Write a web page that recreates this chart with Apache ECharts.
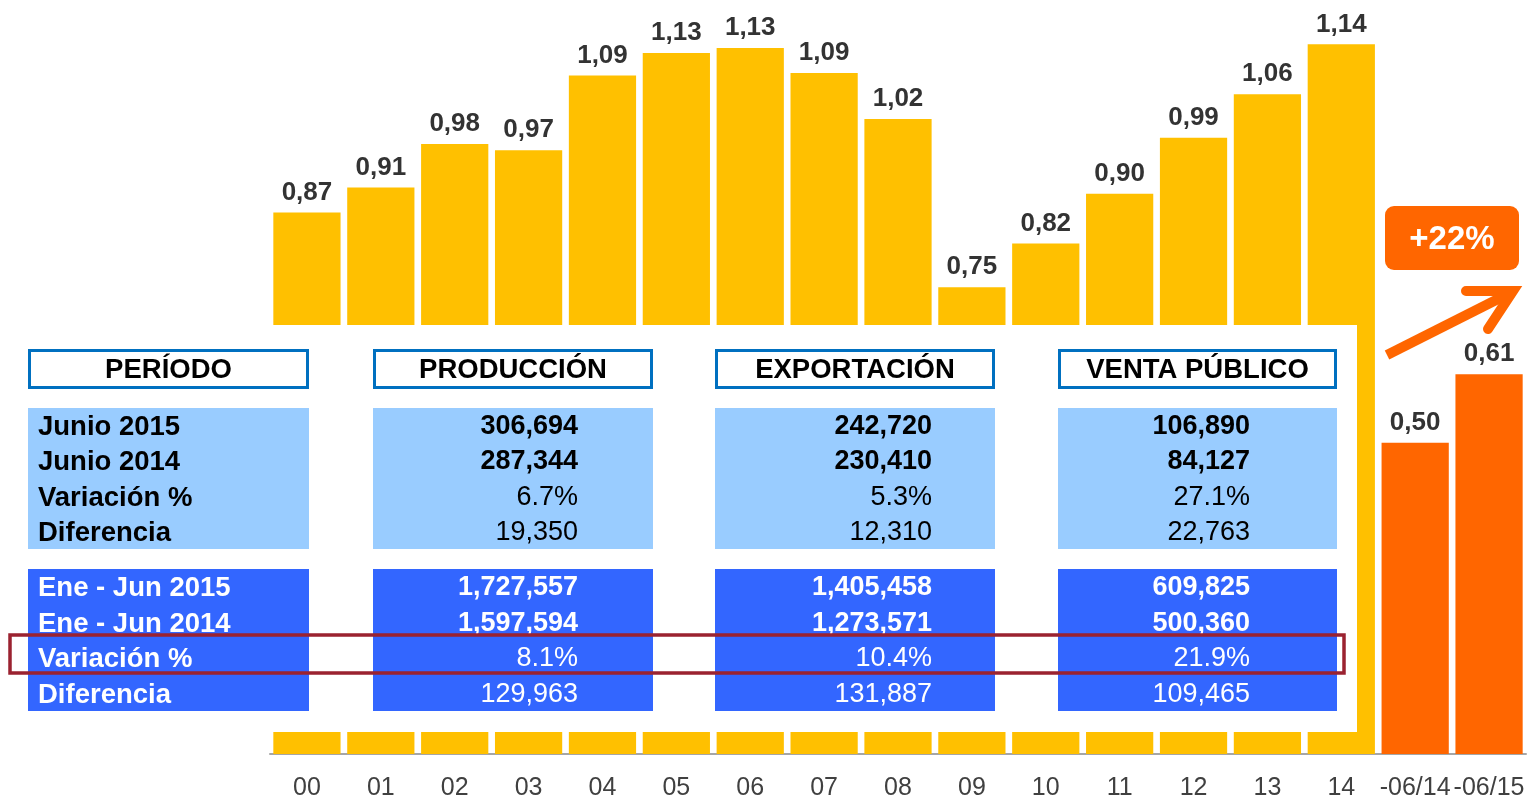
<!DOCTYPE html>
<html><head><meta charset="utf-8">
<script src="https://cdn.jsdelivr.net/npm/echarts@6/dist/echarts.min.js"></script>
<style>html,body{margin:0;padding:0;background:#fff}#c{width:1528px;height:801px}</style>
</head><body><div id="c"></div>
<script>
// ---- data ----
const categories = ['00','01','02','03','04','05','06','07','08','09','10','11','12','13','14','-06/14','-06/15'];
const annualValues = [0.87,0.91,0.98,0.97,1.09,1.126,1.134,1.094,1.02,0.75,0.82,0.90,0.99,1.06,1.14];
const partialValues = [0.50,0.61];
const growthLabel = '+22%';

const tableHeaders = ['PERÍODO','PRODUCCIÓN','EXPORTACIÓN','VENTA PÚBLICO'];
const monthRowLabels = ['Junio 2015','Junio 2014','Variación %','Diferencia'];
const ytdRowLabels = ['Ene - Jun 2015','Ene - Jun 2014','Variación %','Diferencia'];
const produccionMonth = ['306,694','287,344','6.7%','19,350'];
const exportacionMonth = ['242,720','230,410','5.3%','12,310'];
const ventaMonth = ['106,890','84,127','27.1%','22,763'];
const produccionYtd = ['1,727,557','1,597,594','8.1%','129,963'];
const exportacionYtd = ['1,405,458','1,273,571','10.4%','131,887'];
const ventaYtd = ['609,825','500,360','21.9%','109,465'];

// ---- styles ----
const YELLOW = '#FFC000', ORANGE = '#FF6600';
const LIGHT = '#99CCFF', DARK = '#3366FF', BORDER = '#0070C0', RED = '#9B2230';
const FONT = '"Liberation Sans", Arial, sans-serif';

const allValues = annualValues.concat(partialValues);
const barData = allValues.map((v, i) => ({
  value: v,
  itemStyle: { color: i < annualValues.length ? YELLOW : ORANGE }
}));

const colX = [[28,309],[373,653],[715,995],[1058,1337]];
const valueRight = [578, 932, 1250];
const monthRowsY = [427, 462, 498, 533];
const ytdRowsY = [588, 624, 659, 695];

const g = [];
// white panel covering lower bars
g.push({ type:'rect', shape:{x:0,y:325,width:1357,height:407}, style:{fill:'#fff'}, z:100 });
// headers
tableHeaders.forEach((h, i) => {
  const [x0,x1] = colX[i];
  g.push({ type:'rect', shape:{x:x0+1.5,y:350.5,width:x1-x0-3,height:37}, style:{fill:'#fff', stroke:BORDER, lineWidth:3}, z:101 });
  g.push({ type:'text', x:(x0+x1)/2, y:370, style:{text:h, fill:'#000', font:'bold 27.5px '+FONT, align:'center', verticalAlign:'middle'}, z:102 });
});
// blocks
colX.forEach(([x0,x1]) => {
  g.push({ type:'rect', shape:{x:x0,y:408,width:x1-x0,height:141}, style:{fill:LIGHT}, z:101 });
  g.push({ type:'rect', shape:{x:x0,y:569,width:x1-x0,height:142}, style:{fill:DARK}, z:101 });
});
function addRows(labels, cols, ys, color) {
  labels.forEach((t, r) => {
    g.push({ type:'text', x:38, y:ys[r], style:{text:t, fill:color, font:'bold 27.5px '+FONT, align:'left', verticalAlign:'middle'}, z:103 });
  });
  cols.forEach((col, c) => {
    col.forEach((t, r) => {
      g.push({ type:'text', x:valueRight[c], y:ys[r], style:{text:t, fill:color, font:(r<2?'bold ':'')+'27px '+FONT, align:'right', verticalAlign:'middle'}, z:103 });
    });
  });
}
addRows(monthRowLabels, [produccionMonth, exportacionMonth, ventaMonth], monthRowsY, '#000');
addRows(ytdRowLabels, [produccionYtd, exportacionYtd, ventaYtd], ytdRowsY, '#fff');
// highlight box
g.push({ type:'rect', shape:{x:10,y:635,width:1334,height:38}, style:{fill:'none', stroke:RED, lineWidth:3.5}, z:104 });
// growth badge
g.push({ type:'rect', shape:{x:1385,y:206,width:134,height:64,r:9}, style:{fill:ORANGE}, z:100 });
g.push({ type:'text', x:1452, y:240, style:{text:growthLabel, fill:'#fff', font:'bold 33px '+FONT, align:'center', verticalAlign:'middle'}, z:101 });
// arrow
g.push({ type:'line', shape:{x1:1387,y1:355,x2:1508,y2:294}, style:{stroke:ORANGE, lineWidth:10, lineCap:'butt'}, z:100 });
g.push({ type:'polyline', shape:{points:[[1466,291],[1513,291],[1488,329]]}, style:{stroke:ORANGE, fill:'none', lineWidth:10, lineCap:'round', lineJoin:'miter'}, z:100 });

const chart = echarts.init(document.getElementById('c'));
chart.setOption({
  animation:false,
  backgroundColor:'#fff',
  grid:{left:270, right:2, top:7, bottom:45, containLabel:false},
  xAxis:{
    type:'category', data:categories,
    axisLine:{show:true, lineStyle:{color:'#A6A6A6', width:2}},
    axisTick:{show:false},
    axisLabel:{color:'#404040', fontSize:25, fontFamily:FONT, margin:22, interval:0}
  },
  yAxis:{ type:'value', min:0, max:1.2, show:false, splitLine:{show:false} },
  series:[{
    type:'bar', data:barData, barCategoryGap:'9%',
    label:{show:true, position:'top', distance:7, color:'#333', fontWeight:'bold', fontSize:26, fontFamily:FONT,
      formatter:p => p.value.toFixed(2).replace('.', ',')}
  }],
  graphic:g
});
</script></body></html>
